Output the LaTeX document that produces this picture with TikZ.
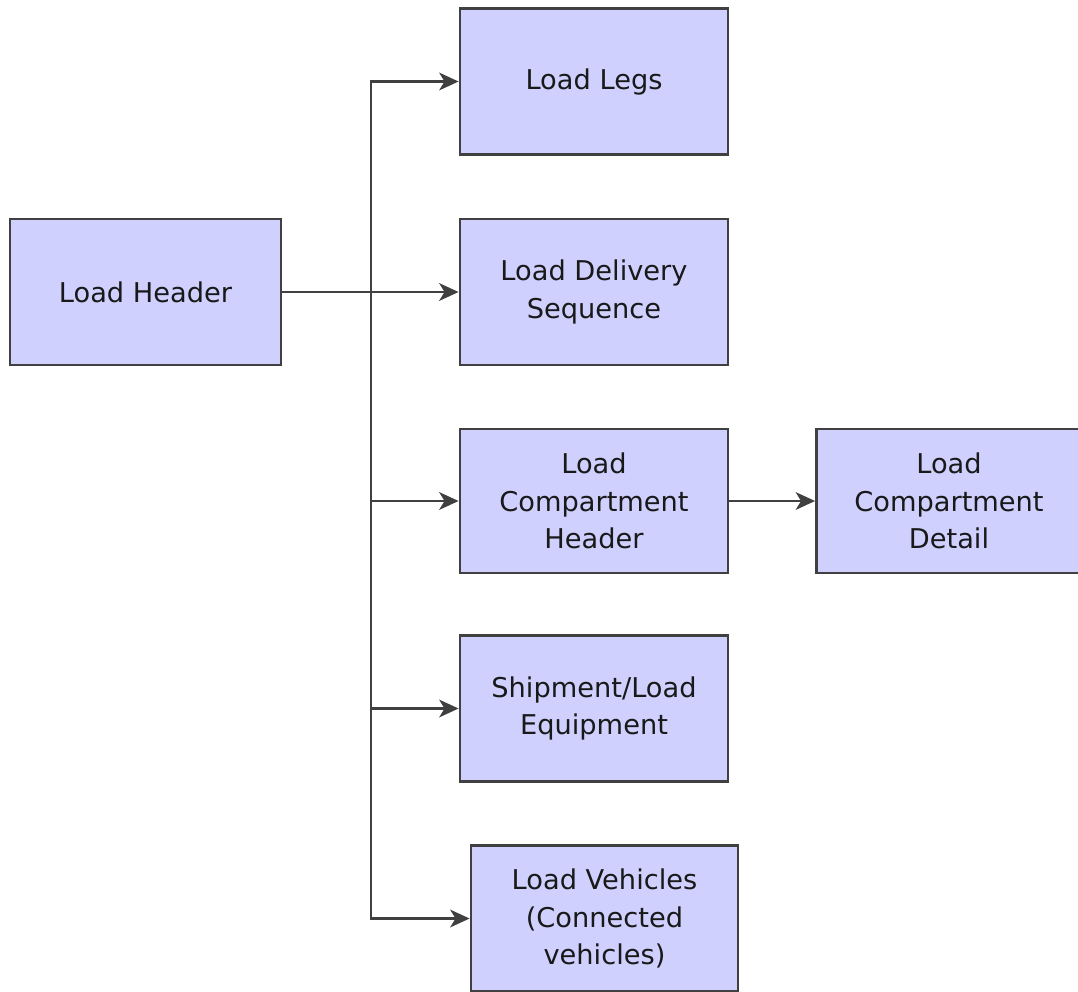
\documentclass[tikz,border=0pt]{standalone}
\usepackage{fontspec}
\setmainfont{DejaVu Sans}
\usepackage{tikz}
\usetikzlibrary{positioning, arrows.meta, calc}
\definecolor{boxfill}{RGB}{208,208,255}
\definecolor{linegray}{RGB}{64,64,64}

\begin{document}
\begin{tikzpicture}[>={Stealth[length=11pt,width=10pt,inset=3pt]},
	block/.style={rectangle, draw=linegray, line width=1.6pt, fill=boxfill, minimum width=5.36cm, minimum height=2.92cm, align=center, font=\fontsize{15.5}{21.5}\selectfont, text=black!90},
	link/.style={draw=linegray, line width=1.6pt}]
		\useasboundingbox (0,0) rectangle (21.56,-19.82);
		
		% Root node
		\node[block, minimum width=5.42cm] (header) at (2.91,-5.84) {Load Header};
		
		% Child nodes
		\node[block] (legs) at (11.88,-1.63) {Load Legs};
		\node[block] (delivery) at (11.88,-5.84) {Load Delivery\\Sequence};
		\node[block, minimum height=2.88cm] (comphdr) at (11.88,-10.02) {Load\\Compartment\\Header};
		\node[block] (equip) at (11.88,-14.17) {Shipment/Load\\Equipment};
		\node[block, minimum width=5.34cm] (vehicles) at (12.09,-18.37) {Load Vehicles\\(Connected\\vehicles)};
		
		% Detail node
		\node[block, minimum width=5.3cm, minimum height=2.88cm] (compdet) at (18.98,-10.02) {Load\\Compartment\\Detail};
		
		% Trunk line
		\coordinate (trunk) at (7.42,-1.63);
		\draw[link, ->] (trunk |- vehicles.west) -- (trunk) -- (legs.west);
		\draw[link, ->] (trunk) |- (vehicles.west);
		
		% connections
		\draw[link, ->] (header) -- (delivery);
		
		\foreach \n in {comphdr, equip} {
			\draw[link, ->] (trunk |- \n.west) -- (\n.west);
		}
		
		\draw[link, ->] (comphdr) -- (compdet);
	\end{tikzpicture}
\end{document}
